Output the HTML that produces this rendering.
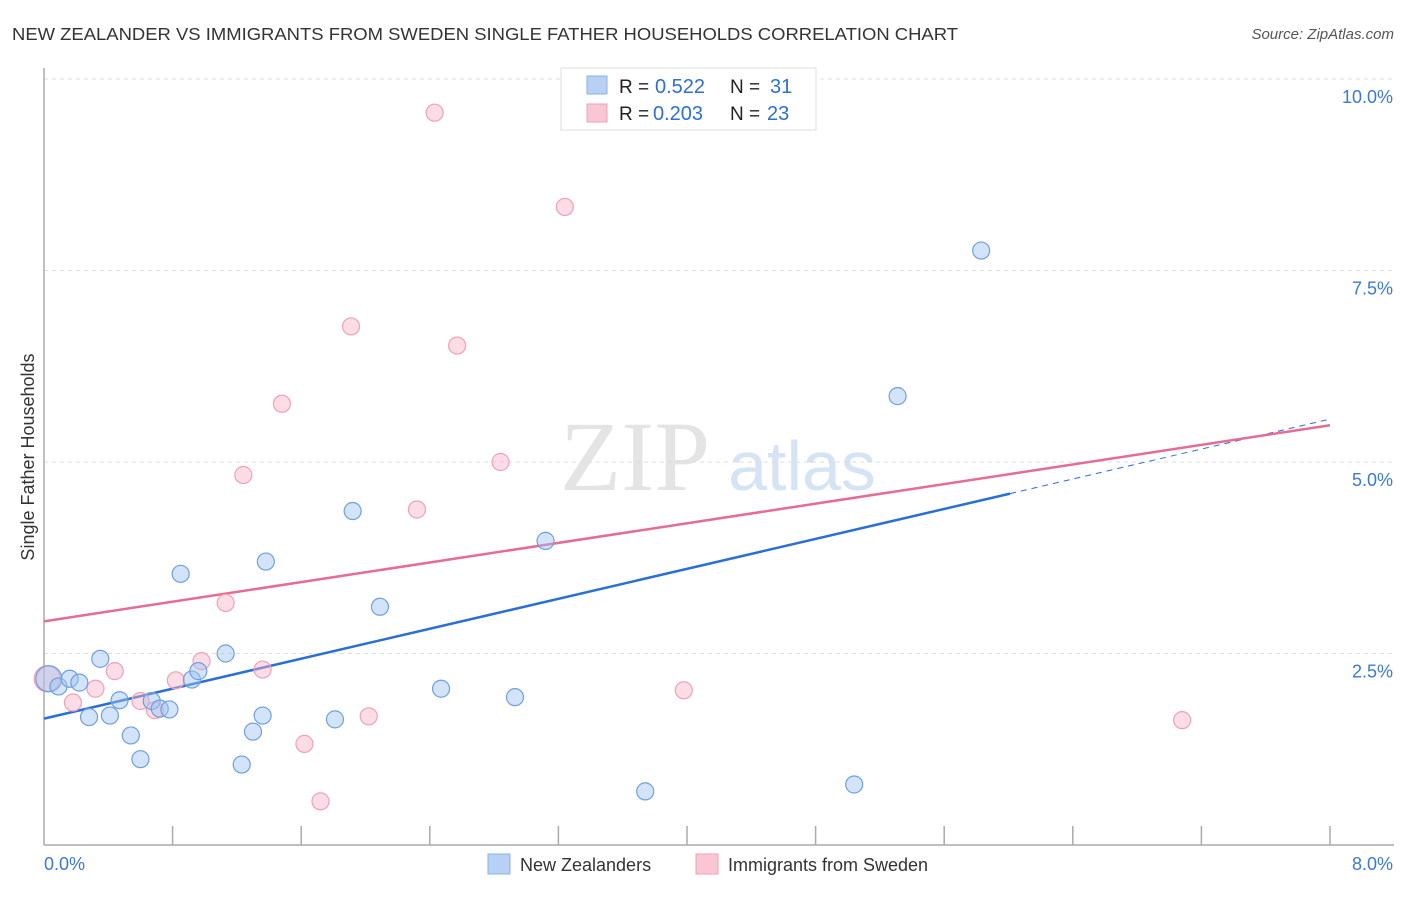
<!DOCTYPE html>
<html><head><meta charset="utf-8"><style>
body{margin:0;background:#fff;font-family:"Liberation Sans",sans-serif;}
</style></head><body>
<svg id="chart" width="1406" height="892" xmlns="http://www.w3.org/2000/svg" font-family="Liberation Sans, sans-serif">
<text x="12" y="40" font-size="17.5" fill="#333" textLength="946" lengthAdjust="spacingAndGlyphs">NEW ZEALANDER VS IMMIGRANTS FROM SWEDEN SINGLE FATHER HOUSEHOLDS CORRELATION CHART</text>
<text x="1394" y="39" font-size="15" fill="#555" font-style="italic" text-anchor="end">Source: ZipAtlas.com</text>
<text x="0" y="0" transform="translate(34,457) rotate(-90)" font-size="18" fill="#333" text-anchor="middle">Single Father Households</text>
<text x="635" y="490" font-size="100" fill="#e4e4e4" style="font-family:'Liberation Serif',serif" text-anchor="middle">ZIP</text>
<text x="802" y="490" font-size="70" fill="#d6e3f4" text-anchor="middle">atlas</text>
<g id="grid"></g><g id="axes"></g><g id="lines"></g><g id="points"></g>
<g>
<rect x="561" y="68" width="255" height="62" fill="#fff" stroke="#ddd"/>
<rect x="587" y="76" width="20" height="18" fill="#b8d0f4" stroke="#8ab0e6"/>
<rect x="587" y="104" width="20" height="18" fill="#f9c6d4" stroke="#f0a0b8"/>
<text x="619" y="93" font-size="19" fill="#222">R = <tspan x="655" fill="#2d6fd6" font-size="20">0.522</tspan><tspan x="730">N = </tspan><tspan x="770" fill="#2d6fd6" font-size="20">31</tspan></text>
<text x="619" y="120" font-size="19" fill="#222">R = <tspan x="653" fill="#2d6fd6" font-size="20">0.203</tspan><tspan x="730">N = </tspan><tspan x="767" fill="#2d6fd6" font-size="20">23</tspan></text>
</g>
<g>
<rect x="488" y="854" width="22" height="20" fill="#b8d0f4" stroke="#8ab0e6"/>
<text x="520" y="871" font-size="18" fill="#333">New Zealanders</text>
<rect x="696" y="854" width="22" height="20" fill="#f9c6d4" stroke="#f0a0b8"/>
<text x="728" y="871" font-size="18" fill="#333">Immigrants from Sweden</text>
</g>
</svg>
<script>
const blueX=[0.03,0.09,0.16,0.22,0.28,0.35,0.41,0.47,0.54,0.60,0.67,0.72,0.78,0.85,0.92,0.96,1.13,1.23,1.30,1.36,1.38,1.81,1.92,2.09,2.47,2.93,3.12,3.74,5.04,5.31,5.83];
const blueY=[2.17,2.07,2.17,2.12,1.67,2.43,1.69,1.89,1.43,1.12,1.88,1.78,1.77,3.54,2.16,2.27,2.50,1.05,1.48,1.69,3.70,1.64,4.36,3.11,2.04,1.93,3.97,0.70,0.79,5.86,7.76];
const pinkX=[0.02,0.18,0.32,0.44,0.60,0.69,0.82,0.98,1.13,1.24,1.36,1.48,1.62,1.72,1.91,2.02,2.32,2.43,2.57,2.84,3.24,3.98,7.08];
const pinkY=[2.17,1.86,2.04,2.27,1.88,1.76,2.15,2.40,3.16,4.83,2.29,5.76,1.32,0.57,6.77,1.68,4.38,9.56,6.52,5.00,8.33,2.02,1.63];
const blueTrend=[1.65,5.56];
const pinkTrend=[2.92,5.48];
const blueSolidEnd=6.01;
const yTicks=[2.5,5.0,7.5,10.0];
const xTicks=[0,0.8,1.6,2.4,3.2,4.0,4.8,5.6,6.4,7.2,8.0];
const NS='http://www.w3.org/2000/svg';
const sx=v=>44+v*160.75, sy=v=>845-v*76.6;
function mk(tag,attrs,parent){const e=document.createElementNS(NS,tag);for(const k in attrs)e.setAttribute(k,attrs[k]);document.getElementById(parent).appendChild(e);return e;}
yTicks.forEach(t=>{
 const l=mk('line',{x1:44,x2:1394,y1:sy(t),y2:sy(t),stroke:'#ddd','stroke-dasharray':'4,4'},'grid');
 
 
 const tx=mk('text',{x:1393,y:sy(t)+24,'font-size':18,fill:'#3b78d8','text-anchor':'end'},'grid');
 tx.textContent=t.toFixed(1)+'%';
 
 
});
let a=mk('line',{x1:44,x2:44,y1:68,y2:845,stroke:'#aaa','stroke-width':1.5},'axes');


a=mk('line',{x1:44,x2:1394,y1:845,y2:845,stroke:'#aaa','stroke-width':1.5},'axes');


xTicks.forEach(t=>{if(t===0)return;const l=mk('line',{x1:sx(t),x2:sx(t),y1:826,y2:845,stroke:'#aaa','stroke-width':1.5},'axes');
 
 });
[[0,'0.0%','start',44],[8,'8.0%','end',1393]].forEach(d=>{const tx=mk('text',{x:d[3],y:870,'font-size':18,fill:'#3b78d8','text-anchor':d[2]},'axes');tx.textContent=d[1];
 
 });
const bAt=x=>blueTrend[0]+(blueTrend[1]-blueTrend[0])*x/8;
let ln=mk('line',{x1:sx(0),y1:sy(bAt(0)),x2:sx(blueSolidEnd),y2:sy(bAt(blueSolidEnd)),stroke:'#2a6fd6','stroke-width':2.5},'lines');


ln=mk('line',{x1:sx(blueSolidEnd),y1:sy(bAt(blueSolidEnd)),x2:sx(8),y2:sy(bAt(8)),stroke:'#2a6fd6','stroke-width':1,'stroke-dasharray':'6,5'},'lines');


ln=mk('line',{x1:sx(0),y1:sy(pinkTrend[0]),x2:sx(8),y2:sy(pinkTrend[1]),stroke:'#e46c95','stroke-width':2.5},'lines');


function pts(X,Y,fill,stroke,name){X.forEach((x,i)=>{const c=mk('circle',{cx:sx(x),cy:sy(Y[i]),r:i===0?13:8.5,fill:fill,stroke:stroke,'stroke-width':1.2},'points');
 
 });}
pts(pinkX,pinkY,'rgba(248,180,200,0.45)','#f0a0b8','sweden-point');
pts(blueX,blueY,'rgba(160,196,240,0.45)','#6f9fe0','new-zealander-point');
</script>
</body></html>
